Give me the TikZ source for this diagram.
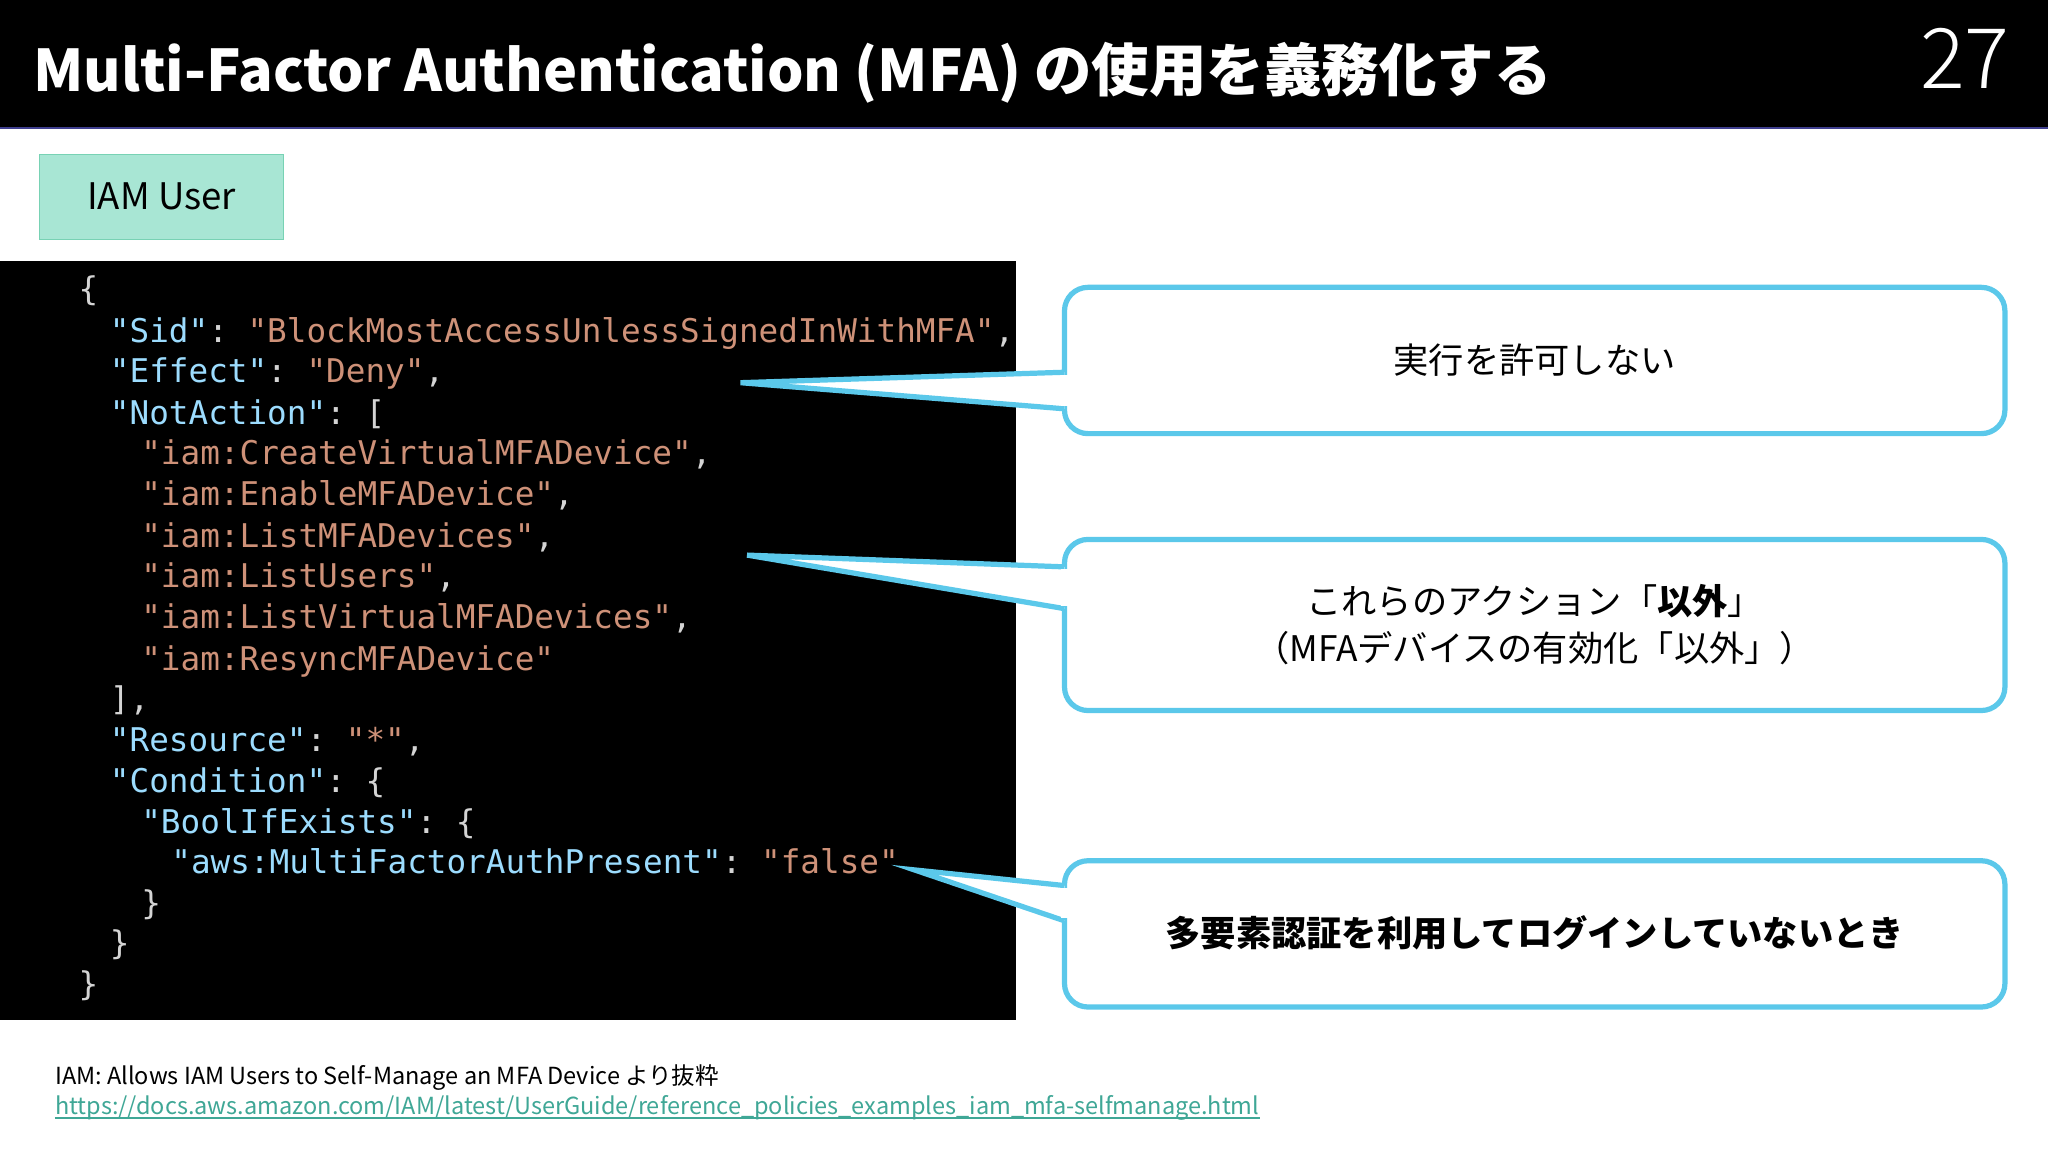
\documentclass[tikz,border=0pt]{standalone}
\usepackage{fontspec}
\setmainfont{Noto Sans CJK JP}
\setmonofont{DejaVu Sans Mono}
\definecolor{keyc}{HTML}{9CDCFE}
\definecolor{strc}{HTML}{CE9178}
\definecolor{punc}{HTML}{D4D4D4}
\definecolor{callc}{HTML}{5BC8EA}
\definecolor{iamc}{HTML}{A8E6D4}
\definecolor{linkc}{HTML}{3FA796}
\newcommand{\Kc}[1]{\textcolor{keyc}{#1}}
\newcommand{\Sc}[1]{\textcolor{strc}{#1}}
\begin{document}
\begin{tikzpicture}[x=1pt,y=-1pt,
  code/.style={anchor=base west,inner sep=0pt,text=punc,font=\fontsize{25}{25}\selectfont\ttfamily},
  callbox/.style={draw=callc,line width=4pt,rounded corners=18pt,fill=white},
  calltext/.style={font=\fontsize{27}{36}\selectfont,align=center}]
\useasboundingbox (0,0) rectangle (1568,882);
\fill[white] (0,0) rectangle (1568,882);
\fill[black] (0,0) rectangle (1568,98);
\draw[color={rgb,255:red,63;green,63;blue,143},line width=2pt] (0,98) -- (1568,98);
\node[anchor=base west,text=white,font=\fontsize{44}{44}\selectfont\bfseries] (title) at (22,70) {Multi-Factor Authentication (MFA) の使用を義務化する};
\node[anchor=base east,text=white,font=\fontsize{64}{64}\selectfont\ttfamily] (num) at (1542,68) {\fontspec{Noto Sans CJK JP Light}27};
\node[draw={rgb,255:red,120;green,210;blue,180},fill=iamc,minimum width=187pt,minimum height=65pt,font=\fontsize{28}{28}\selectfont,anchor=north west] (iam) at (30,118) {IAM User};
\fill[black] (0,200) rectangle (778,781);
\node[code] (l1) at (60,230) {\{};
\node[code] (l2) at (84,262) {\Kc{"Sid"}: \Sc{"BlockMostAccessUnlessSignedInWithMFA"},};
\node[code] (l3) at (84,293) {\Kc{"Effect"}: \Sc{"Deny"},};
\node[code] (l4) at (84,325) {\Kc{"NotAction"}: [};
\node[code] (l5) at (108,356) {\Sc{"iam:CreateVirtualMFADevice"},};
\node[code] (l6) at (108,387) {\Sc{"iam:EnableMFADevice"},};
\node[code] (l7) at (108,419) {\Sc{"iam:ListMFADevices"},};
\node[code] (l8) at (108,450) {\Sc{"iam:ListUsers"},};
\node[code] (l9) at (108,481) {\Sc{"iam:ListVirtualMFADevices"},};
\node[code] (l10) at (108,513) {\Sc{"iam:ResyncMFADevice"}};
\node[code] (l11) at (84,544) {],};
\node[code] (l12) at (84,575) {\Kc{"Resource"}: \Sc{"*"},};
\node[code] (l13) at (84,607) {\Kc{"Condition"}: \{};
\node[code] (l14) at (108,638) {\Kc{"BoolIfExists"}: \{};
\node[code] (l15) at (131,669) {\Kc{"aws:MultiFactorAuthPresent"}: \Sc{"false"}};
\node[code] (l16) at (108,700) {\}};
\node[code] (l17) at (84,731) {\}};
\node[code] (l18) at (60,762) {\}};
% callouts
\draw[callbox] (815,220) rectangle (1535,332);
\coordinate (t1) at (567,293);
\draw[draw=callc,line width=4pt,fill=white,line join=miter] (815,285) -- (t1) -- (815,313);
\draw[white,line width=5pt] (815,287) -- (815,311);
\node[calltext] (c1) at (1175,276) {実行を許可しない};
\draw[callbox] (815,413) rectangle (1535,544);
\coordinate (t2) at (572,425);
\draw[draw=callc,line width=4pt,fill=white,line join=miter] (815,434) -- (t2) -- (815,466);
\draw[white,line width=5pt] (815,436) -- (815,464);
\node[calltext] (c2) at (1175,478) {これらのアクション「\textbf{以外}」\\（MFAデバイスの有効化「以外」）};
\draw[callbox] (815,659) rectangle (1535,771);
\coordinate (t3) at (700,666);
\draw[draw=callc,line width=4pt,fill=white,line join=miter] (815,678) -- (t3) -- (815,705);
\draw[white,line width=5pt] (815,680) -- (815,703);
\node[calltext,font=\fontsize{27}{36}\selectfont\bfseries] (c3) at (1175,714) {多要素認証を利用してログインしていないとき};
% footer
\node[anchor=base west,inner sep=0pt,font=\fontsize{18}{18}\selectfont] (src) at (42,830) {IAM: Allows IAM Users to Self-Manage an MFA Device より抜粋};
\node[anchor=base west,inner sep=0pt,text=linkc,font=\fontsize{18}{18}\selectfont] (lnk) at (42,853) {https://docs.aws.amazon.com/IAM/latest/UserGuide/reference\_policies\_examples\_iam\_mfa-selfmanage.html};
\draw[linkc,line width=1pt] (lnk.base west) ++(0,3) -- ([yshift=-3pt]lnk.base east);
\end{tikzpicture}
\end{document}
